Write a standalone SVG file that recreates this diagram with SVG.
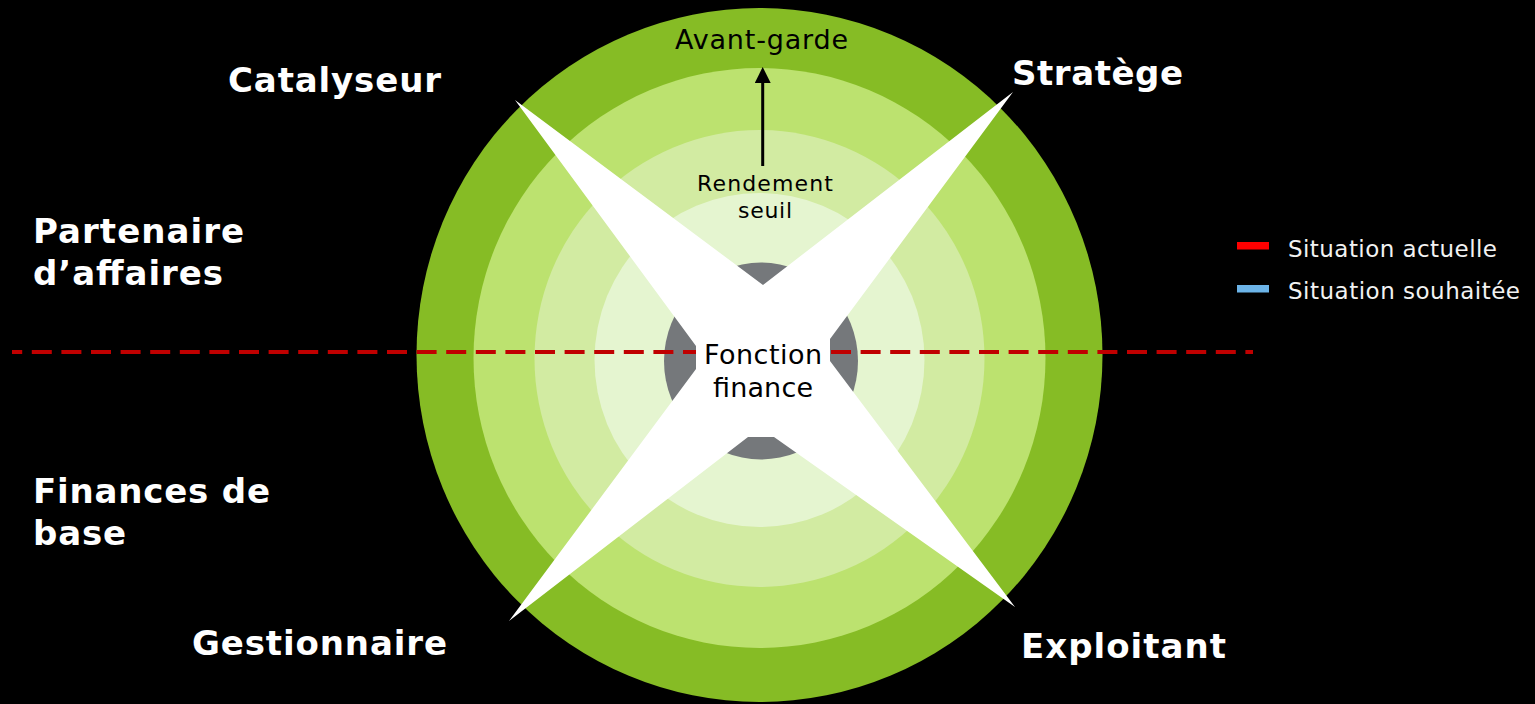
<svg xmlns="http://www.w3.org/2000/svg" width="1535" height="704" viewBox="0 0 1535 704">
  <defs>
    <style>
      .role { font-family: "DejaVu Sans", Verdana, sans-serif; font-weight: bold; font-size: 34px; fill: #FFFFFF; }
      .dark { font-family: "DejaVu Sans", Verdana, sans-serif; fill: #000000; }
      .legend { font-family: "DejaVu Sans", Verdana, sans-serif; font-size: 23px; fill: #F2F2F2; }
    </style>
    <marker id="arrowhead" markerUnits="userSpaceOnUse" markerWidth="16" markerHeight="16" viewBox="0 0 16 16" refX="0" refY="8" orient="auto">
      <path d="M0,0 L16,8 L0,16 z" fill="#000000"/>
    </marker>
  </defs>

  <rect x="0" y="0" width="1535" height="704" fill="#000000"/>

  <g id="rings">
    <ellipse id="ring-avant-garde" cx="759.5" cy="355" rx="343" ry="347" fill="#86BC25"/>
    <ellipse id="ring-2" cx="759.5" cy="358" rx="286" ry="290" fill="#BCE26F"/>
    <ellipse id="ring-3" cx="759.5" cy="358.5" rx="225" ry="228.5" fill="#D2EBA2"/>
    <ellipse id="ring-4" cx="759.5" cy="360" rx="165" ry="167" fill="#E5F5D0"/>
    <ellipse id="core" cx="761" cy="361" rx="97" ry="98.5" fill="#75787B"/>
  </g>

  <g id="situation-actuelle-line">
    <line x1="12" y1="352" x2="1253" y2="352" stroke="#C00000" stroke-width="4" stroke-dasharray="20 9.6" stroke-dashoffset="9.8"/>
  </g>

  <g id="star">
    <polygon points="515,100 763,285 1013,92 830,339 830,361 1015,607 774,437 748,437 509,621 696,369 696,346" fill="#FFFFFF"/>
  </g>

  <g id="fonction-finance">
    <text class="dark" font-size="27" text-anchor="middle" x="763" y="364" textLength="118">Fonction</text>
    <text class="dark" font-size="27" text-anchor="middle" x="763" y="397" textLength="100">finance</text>
  </g>

  <g id="avant-garde">
    <text class="dark" font-size="27" x="675" y="49" textLength="173">Avant-garde</text>
  </g>

  <g id="rendement-seuil">
    <text class="dark" font-size="22" text-anchor="middle" x="765" y="191" textLength="136">Rendement</text>
    <text class="dark" font-size="22" text-anchor="middle" x="765" y="218" textLength="54">seuil</text>
  </g>

  <g id="connectors">
    <line x1="762.7" y1="166" x2="762.7" y2="83" stroke="#000000" stroke-width="3" marker-end="url(#arrowhead)"/>
  </g>

  <g id="catalyseur"><text class="role" x="228" y="92" textLength="213">Catalyseur</text></g>
  <g id="stratege"><text class="role" x="1012" y="85" textLength="171">Stratège</text></g>
  <g id="partenaire">
    <text class="role" x="33" y="243" textLength="211">Partenaire</text>
    <text class="role" x="33" y="285" textLength="190">d’affaires</text>
  </g>
  <g id="finances-de-base">
    <text class="role" x="33" y="503" textLength="237">Finances de</text>
    <text class="role" x="33" y="545" textLength="93">base</text>
  </g>
  <g id="gestionnaire"><text class="role" x="192" y="655" textLength="255">Gestionnaire</text></g>
  <g id="exploitant"><text class="role" x="1021" y="658" textLength="205">Exploitant</text></g>

  <g id="legend">
    <rect x="1237" y="242" width="32" height="7.5" fill="#FF0000"/>
    <text class="legend" x="1288" y="257" textLength="209">Situation actuelle</text>
    <rect x="1237" y="285" width="32" height="7.5" fill="#6CB4E8"/>
    <text class="legend" x="1288" y="299" textLength="232">Situation souhaitée</text>
  </g>
</svg>
